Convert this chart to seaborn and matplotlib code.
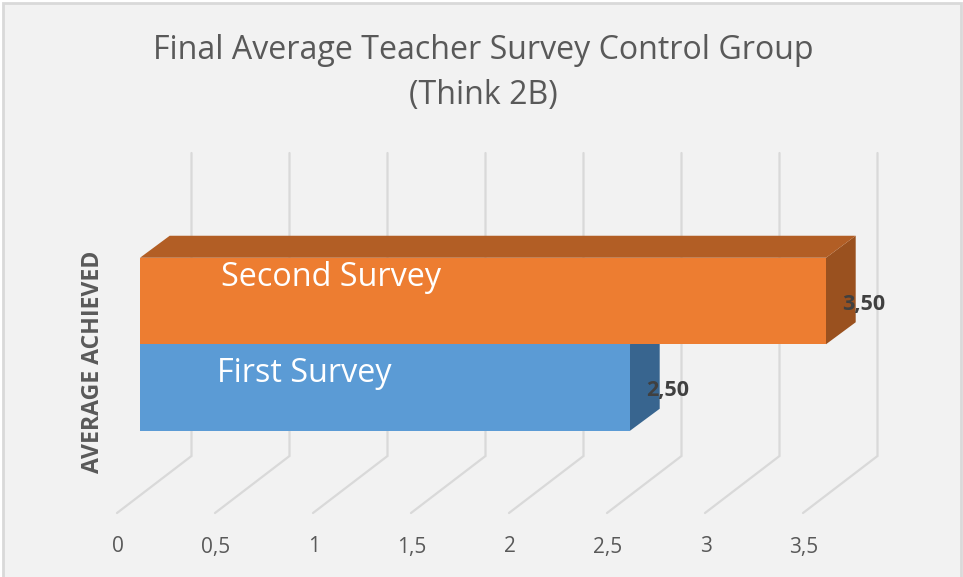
import matplotlib
matplotlib.use("Agg")
import matplotlib.pyplot as plt
from matplotlib.patches import Polygon, Rectangle
import seaborn as sns
import pandas as pd

surveys = ["Second Survey", "First Survey"]
averages = [3.5, 2.5]
value_labels = ["3,50", "2,50"]
tick_values = [0, 0.5, 1, 1.5, 2, 2.5, 3, 3.5]
tick_labels = ["0", "0,5", "1", "1,5", "2", "2,5", "3", "3,5"]
front_colors = ["#ED7D31", "#5B9BD5"]
top_color = "#B25E25"
side_colors = ["#9A511F", "#38658F"]
title = "Final Average Teacher Survey Control Group\n(Think 2B)"
axis_title = "AVERAGE ACHIEVED"

W, H = 963, 577
BG = "#F2F2F2"
PX = 196.0   # pixels per value unit
PY = 86.5    # pixels per category

sns.set_theme(style="white")
plt.rcParams["font.family"] = ["Open Sans", "DejaVu Sans"]

fig = plt.figure(figsize=(W / 100, H / 100), dpi=100, facecolor="white")
fig.add_artist(Rectangle((3 / W, -0.01), 958 / W, 1.01 - 3 / H, transform=fig.transFigure,
                         facecolor=BG, edgecolor="#D9D9D9", linewidth=2, zorder=-5))
ax = fig.add_axes([0, 0, 1, 1], facecolor="none")

def dx(p):
    return p / PX

def dy(p):
    return p / PY

# walls / floor grid
wall_dx, wall_bottom, wall_top = dx(51.5), 1 + dy(456 - 387.5), -dy(301 - 153)
floor_dx, floor_bottom = dx(-23), 1 + dy(513 - 387.5)
for v in tick_values:
    ax.plot([v + floor_dx, v + wall_dx, v + wall_dx],
            [floor_bottom, wall_bottom, wall_top],
            color="#D9D9D9", lw=1.6, solid_joinstyle="miter", zorder=1)

df = pd.DataFrame({"survey": surveys, "average": averages})
sns.barplot(data=df, x="average", y="survey", hue="survey", order=surveys, hue_order=surveys,
            palette=front_colors, saturation=1, orient="h", width=1.0, dodge=False, legend=False,
            ax=ax, zorder=4, linewidth=0)
ax.set_xlim(-140 / PX, (W - 140) / PX)
ax.set_ylim(1 + (H - 387.5) / PY, -301 / PY)
ax.axis("off")

# 3-D faces derived from the data
ddx, ddy = dx(29.7), dy(22)
for i, (v, side) in enumerate(zip(averages, side_colors)):
    top, bot = i - 0.5, i + 0.5
    ax.add_patch(Polygon([(v, top), (v + ddx, top - ddy), (v + ddx, bot - ddy), (v, bot)],
                         closed=True, facecolor=side, edgecolor="none", zorder=3))
top = -0.5
ax.add_patch(Polygon([(0, top), (ddx, top - ddy), (averages[0] + ddx, top - ddy), (averages[0], top)],
                     closed=True, facecolor=top_color, edgecolor="none", zorder=3))

# value labels
for i, (v, lab) in enumerate(zip(averages, value_labels)):
    ax.text(v + dx(37.5), i + dy(3.5), lab, ha="center", va="center", fontsize=15.5,
            fontweight="bold", color="#404040", zorder=6)

# category labels inside bars
ax.text(dx(81), 0 - dy(23), surveys[0], ha="left", va="center", fontsize=23.3, color="white", zorder=6)
ax.text(dx(77), 1 - dy(14), surveys[1], ha="left", va="center", fontsize=23.3, color="white", zorder=6)

# tick labels
for v, lab in zip(tick_values, tick_labels):
    ax.text(v + floor_dx + dx(1), 1 + dy(547 - 387.5), lab, ha="center", va="center", fontsize=15, color="#595959")

fig.text(483 / W, 1 - 73 / H, title, ha="center", va="center", fontsize=23.1, color="#595959", linespacing=1.48)
fig.text(93 / W, 1 - 362 / H, axis_title, rotation=90, ha="center", va="center", fontsize=16.6,
         fontweight="bold", color="#595959")

fig.savefig("out.png", dpi=100, facecolor="white")
